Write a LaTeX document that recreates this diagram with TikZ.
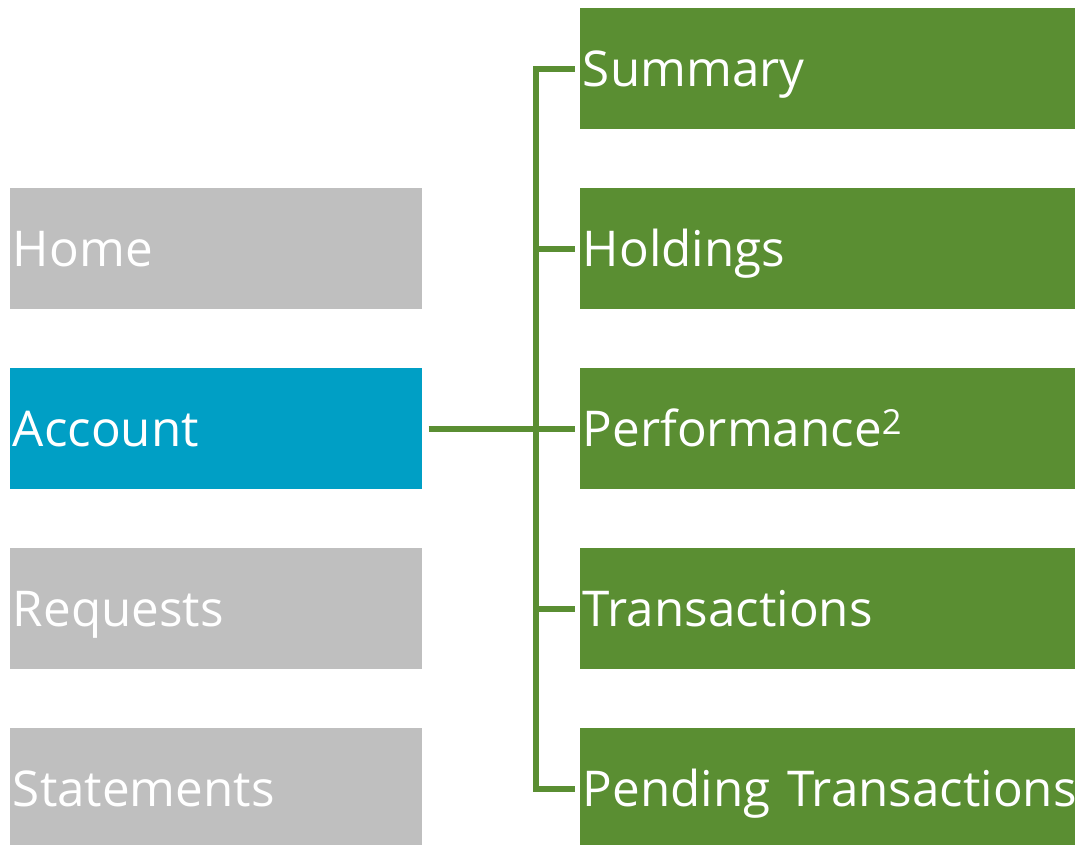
\documentclass[tikz,border=0pt]{standalone}
\usepackage{fontspec}
\setmainfont{Open Sans}
\usetikzlibrary{positioning}

\definecolor{menugray}{RGB}{191,191,191}
\definecolor{menublue}{RGB}{0,159,197}
\definecolor{menugreen}{RGB}{90,142,50}

\begin{document}
\begin{tikzpicture}[
        x=0.75pt, y=-0.75pt,
        every node/.style={rectangle, anchor=north west, inner xsep=2pt, inner ysep=0pt,
          minimum height=90.75pt, text height=26.4pt, text depth=0pt, text=white,
          align=left, font=\fontsize{37}{40}\selectfont},
        topitem/.style={fill=menugray, text width=305pt},
        current/.style={fill=menublue, text width=305pt},
        subitem/.style={fill=menugreen, text width=367.25pt},
        link/.style={draw=menugreen, line width=4.2pt, line join=miter}
      ]
      \useasboundingbox (0,0) rectangle (1075,845);
      % top level menu
      \node[topitem] (home) at (10,188) {Home};
      \node[current] (acct) at (10,368) {Account};
      \node[topitem] (reqs) at (10,548) {Requests};
      \node[topitem] (stmt) at (10,728) {Statements};
      % account sub menu
      \node[subitem] (summ) at (580,8) {Summary};
      \node[subitem] (hold) at (580,188) {Holdings};
      \node[subitem] (perf) at (580,368) {Performance\textsuperscript{2}};
      \node[subitem] (tran) at (580,548) {Transactions};
      \node[subitem] (pend) at (580,728) {\mbox{Pending Transactions}};
      % tree lines
      \coordinate (bus) at (536,0);
      \draw[link] ([xshift=4.5pt]acct.east) -- ([xshift=-4pt]perf.west);
      \draw[link] ([xshift=-4pt]summ.west) -| (bus |- pend.west) -- ([xshift=-4pt]pend.west);
      \draw[link] (bus |- hold.west) -- ([xshift=-4pt]hold.west);
      \draw[link] (bus |- tran.west) -- ([xshift=-4pt]tran.west);
    \end{tikzpicture}
\end{document}
